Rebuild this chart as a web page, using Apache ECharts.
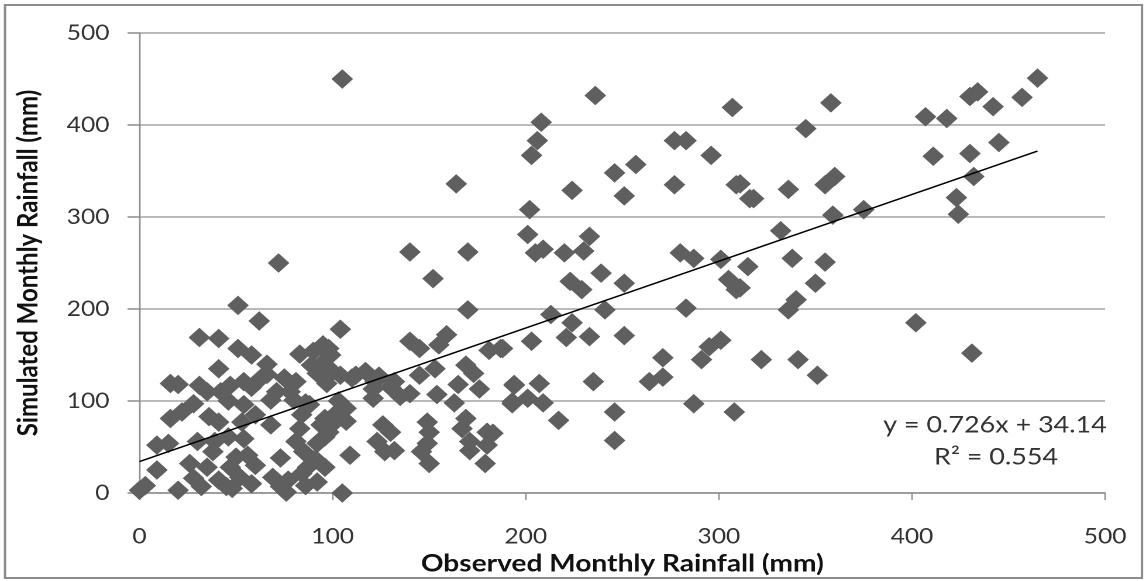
<!DOCTYPE html>
<html>
<head>
<meta charset="utf-8">
<script src="https://cdn.jsdelivr.net/npm/echarts@6/dist/echarts.min.js"></script>
<style>
  html, body { margin: 0; padding: 0; background: #fff; overflow: hidden; }
  #chart { height: 581px; transform-origin: 0 0; }
</style>
</head>
<body>
<div id="chart"></div>
<script>
// observed (x) vs simulated (y) monthly rainfall, mm
const observed = [
  465, 457, 430, 434, 442, 407, 418, 358, 345, 411, 430, 445, 432, 423, 424, 360, 355, 336, 318, 311,
  375, 359, 332, 315, 311, 338, 355, 350, 340, 336, 402, 322, 341, 351, 431, 307,
  236, 208, 206, 203, 277, 283, 296, 224, 246, 257, 251, 277, 309, 316, 202, 201, 205, 209, 220, 230,
  233, 239, 223, 229, 251, 280, 287, 301, 305, 309, 213, 224, 241, 283, 187, 203, 221, 233, 251, 301,
  295, 291, 271, 271, 264, 235, 194, 207, 193, 201, 209, 217, 246, 246, 287, 308,
  164, 140, 170, 152, 170, 104, 98, 95, 140, 145, 159, 155, 181, 188, 169, 173, 165, 176, 153, 145,
  132, 140, 135, 154, 122, 121, 121, 112, 104, 97, 103, 107, 101, 96, 98, 163, 194, 193, 126, 130,
  123, 127, 132, 149, 150, 149, 146, 150, 169, 167, 171, 171, 180, 183, 180, 179, 109, 105, 96, 93, 105,
  72, 51, 62, 31, 41, 16, 51, 58, 41, 66, 66, 83, 90, 89, 95, 81, 92, 54, 47, 31,
  35, 42, 28, 22, 16, 36, 41, 54, 53, 60, 68, 71, 80, 84, 68, 54, 9, 15, 30, 39,
  46, 38, 35, 26, 9, 3, 0, 20, 28, 32, 41, 45, 47, 50, 56, 60, 52, 58, 48, 73,
  69, 73, 77, 76, 84, 87, 91, 86, 92, 85, 81, 92, 94, 96, 83,
  20, 46, 58, 63, 75, 78, 86, 99, 100, 110, 117, 124, 130, 88, 100, 107
];
const simulated = [
  451, 430, 431, 436, 420, 409, 407, 424, 396, 366, 369, 381, 344, 321, 303, 344, 335, 330, 320, 336,
  308, 302, 285, 246, 223, 255, 251, 228, 210, 199, 185, 145, 145, 128, 152, 419,
  432, 403, 383, 367, 383, 383, 367, 329, 348, 357, 323, 335, 335, 320, 308, 281, 261, 265, 261, 263,
  279, 239, 230, 221, 228, 261, 255, 254, 232, 221, 194, 185, 199, 201, 157, 165, 169, 170, 171, 166,
  159, 145, 147, 126, 121, 121, 118, 119, 97, 103, 98, 79, 88, 57, 97, 88,
  336, 262, 262, 233, 199, 178, 157, 142, 165, 157, 172, 161, 155, 157, 139, 130, 118, 113, 135, 128,
  121, 108, 105, 107, 121, 113, 103, 128, 128, 119, 100, 92, 85, 81, 66, 98, 117, 99, 74, 66,
  56, 45, 46, 77, 66, 54, 45, 32, 81, 70, 56, 46, 66, 65, 52, 32, 41, 0, 28, 56, 450,
  250, 204, 187, 169, 168, 119, 157, 150, 135, 140, 129, 151, 154, 139, 161, 121, 130, 121, 117, 117,
  110, 110, 97, 88, 81, 83, 77, 96, 77, 85, 101, 110, 101, 85, 74, 59, 52, 54, 56, 56,
  61, 45, 28, 32, 25, 8, 3, 3, 16, 7, 14, 7, 28, 39, 41, 30, 17, 10, 5, 38,
  17, 7, 14, 1, 21, 28, 37, 8, 12, 45, 56, 54, 74, 61, 70,
  118, 100, 115, 125, 125, 110, 98, 150, 132, 125, 132, 127, 115, 96, 75, 78
];

// linear fit shown on the chart
const slope = 0.726;
const intercept = 34.14;
const fitRange = [0, 465];
const eqLines = ['y = 0.726x + 34.14', 'R\u00b2 = 0.554'];

const xTicks = [0, 100, 200, 300, 400, 500];

const points = observed.map((x, i) => [x, simulated[i]]);
const fitLine = fitRange.map(x => [x, slope * x + intercept]);

// the original picture is a bit stretched sideways, so draw narrower and widen with css
const SX = 1.17;
const px = v => v / SX;

const el = document.getElementById('chart');
el.style.width = px(1147) + 'px';
el.style.transform = 'scaleX(' + SX + ')';

const font = 'Lato, "Open Sans", sans-serif';
const chart = echarts.init(el, null, { renderer: 'canvas', devicePixelRatio: 2 });

chart.setOption({
  animation: false,
  backgroundColor: '#fff',
  grid: { left: px(139.5), right: px(41.5), top: 33, bottom: 88, containLabel: false, outerBoundsMode: 'none' },
  xAxis: {
    type: 'value',
    min: xTicks[0],
    max: xTicks[xTicks.length - 1],
    interval: 100,
    name: 'Observed Monthly Rainfall (mm)',
    nameLocation: 'middle',
    nameGap: 57,
    nameTextStyle: { color: '#111', fontSize: 24, fontWeight: 'bold', fontFamily: font },
    axisLine: { onZero: false, lineStyle: { color: '#8c8c8c', width: 1.5 } },
    axisTick: { show: true, length: 7, lineStyle: { color: '#8c8c8c', width: 1.2 } },
    axisLabel: { color: '#333', fontSize: 21, margin: 33, fontFamily: font },
    splitLine: { show: false }
  },
  yAxis: {
    type: 'value',
    min: 0,
    max: 500,
    interval: 100,
    name: 'Simulated Monthly Rainfall (mm)',
    nameLocation: 'middle',
    nameGap: px(97),
    nameTextStyle: { color: '#111', fontSize: 24, fontWeight: 'bold', fontFamily: font },
    axisLine: { show: true, lineStyle: { color: '#8c8c8c', width: 1.3 } },
    axisTick: { show: true, length: px(12), lineStyle: { color: '#8c8c8c', width: 1.5 } },
    axisLabel: { color: '#333', fontSize: 21, margin: px(30), fontFamily: font },
    splitLine: { show: true, lineStyle: { color: '#a3a3a3', width: 1.5 } }
  },
  series: [
    {
      name: 'rainfall',
      type: 'scatter',
      symbol: 'diamond',
      symbolSize: [18.5, 19.5],
      itemStyle: { color: '#5f5f5f', opacity: 1 },
      data: points,
      z: 2
    },
    {
      name: 'fit',
      type: 'line',
      symbol: 'none',
      data: fitLine,
      lineStyle: { color: '#000', width: 1.5 },
      z: 3
    }
  ],
  graphic: [
    {
      type: 'rect',
      shape: { x: px(5), y: 5, width: px(1137), height: 573 },
      style: { fill: 'none', stroke: '#8c8c8c', lineWidth: 2 },
      silent: true
    },
    {
      type: 'text',
      x: px(995), y: 425,
      style: { text: eqLines[0], fill: '#333', font: '23px ' + font, align: 'center', verticalAlign: 'middle' }
    },
    {
      type: 'text',
      x: px(996), y: 457,
      style: { text: eqLines[1], fill: '#333', font: '23px ' + font, align: 'center', verticalAlign: 'middle' }
    }
  ]
});
</script>
</body>
</html>
